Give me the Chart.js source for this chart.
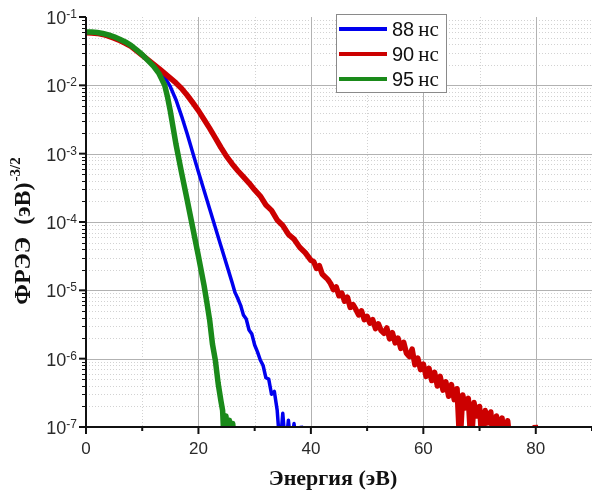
<!DOCTYPE html>
<html>
<head>
<meta charset="utf-8">
<script src="https://cdn.jsdelivr.net/npm/chart.js@4.4.1/dist/chart.umd.min.js"></script>
<style>
  html, body { margin: 0; padding: 0; background: #fff; }
  #wrap { width: 592px; height: 490px; }
</style>
</head>
<body>
<div id="wrap"><canvas id="eedf" width="592" height="490"></canvas></div>
<script>
// EEDF; values are stored as powers of ten (log axis)
const energy88 = [0, 2, 4, 6, 8, 10, 11, 12, 13, 14, 15, 16, 17, 18, 19, 20, 21, 22, 23, 24, 25, 26,
  26.5, 27, 27.5, 28, 28.5, 29, 29.5, 30, 30.5, 31, 31.5, 32, 32.5, 33, 33.5, 34, 34.5, 35, 35.5,
  36, 36.5, 37, 37.5, 37.9, 38.3, 38.5];
const exp88 = [-1.23, -1.24, -1.28, -1.345, -1.43, -1.565, -1.635, -1.70, -1.78, -1.88, -2.02, -2.21,
  -2.45, -2.71, -2.99, -3.27, -3.54, -3.81, -4.08, -4.35, -4.62, -4.89,
  -5.03, -5.12, -5.22, -5.36, -5.42, -5.58, -5.64, -5.80, -5.90, -6.02, -6.10, -6.28, -6.30, -6.52,
  -6.48, -6.75, -7.3, -6.80, -7.3, -6.90, -7.3, -6.95, -7.3, null, -6.98, -7.3];

const energy90 = [0, 1, 2, 3, 4, 5, 6, 7, 8, 9, 10, 11, 12, 13, 14, 15, 16, 17, 18, 19, 20,
  21, 22, 23, 24, 25, 26, 27, 28, 29, 30, 31, 32, 33, 34, 35, 36, 37, 38, 39,
  40, 40.5, 41, 41.5, 42, 42.5, 43, 43.5, 44, 44.5, 45, 45.5, 46, 46.5, 47, 47.5, 48, 48.5, 49, 49.5,
  50, 50.5, 51, 51.5, 52, 52.5, 53, 53.5, 54, 54.5, 55, 55.5, 56, 56.5, 57, 57.5, 58, 58.5, 59, 59.5,
  60, 60.5, 61, 61.5, 62, 62.5, 63, 63.5, 64, 64.5, 65, 65.5, 66, 66.5, 67, 67.5, 68, 68.5, 69, 69.5,
  70, 70.5, 71, 71.5, 72, 72.5, 73, 73.5, 74, 74.5, 75, 75.5, 76, 79.9, 80.1];
const exp90 = [-1.23, -1.233, -1.24, -1.255, -1.28, -1.31, -1.345, -1.385, -1.43, -1.495, -1.56,
  -1.625, -1.69, -1.755, -1.825, -1.895, -1.965, -2.045, -2.145, -2.255, -2.37,
  -2.50, -2.63, -2.77, -2.91, -3.04, -3.15, -3.25, -3.34, -3.43, -3.53, -3.62, -3.75, -3.83, -3.97,
  -4.05, -4.18, -4.25, -4.37, -4.45,
  -4.56, -4.58, -4.68, -4.64, -4.76, -4.80, -4.84, -4.90, -4.99, -4.95, -5.08, -5.04, -5.16, -5.10,
  -5.25, -5.21, -5.28, -5.36, -5.30, -5.43,
  -5.38, -5.48, -5.43, -5.56, -5.49, -5.59, -5.63, -5.55, -5.71, -5.62, -5.77, -5.70, -5.85, -5.76,
  -5.92, -5.97, -5.86, -6.09, -5.99, -6.16,
  -6.08, -6.26, -6.14, -6.32, -6.20, -6.40, -6.26, -6.46, -6.34, -6.55, -6.38, -6.60, -6.44, -7.3,
  -6.53, -6.72, -6.58, -7.3, -6.64, -6.84,
  -6.70, -7.3, -6.76, -6.94, -6.78, -7.3, -6.84, -6.99, -6.87, -7.3, -6.91, -7.3, null, -6.97, -7.3];

const energy95 = [0, 1, 2, 3, 4, 5, 6, 7, 8, 9, 10, 11, 12, 13, 14, 14.5, 15, 15.5, 16, 16.5, 17,
  18, 19, 20, 21, 21.5, 22, 22.5, 23, 23.5, 24, 24.3, 24.6, 24.9, 25.2, 25.5, 25.8, 26.1, 26.4];
const exp95 = [-1.22, -1.221, -1.228, -1.242, -1.262, -1.29, -1.325, -1.365, -1.415, -1.48, -1.55,
  -1.635, -1.72, -1.83, -2.0, -2.17, -2.38, -2.62, -2.86, -3.07, -3.28,
  -3.68, -4.09, -4.5, -4.93, -5.18, -5.44, -5.79, -6.02, -6.36, -6.62, -6.76, -7.3, -6.84, -7.3,
  -6.90, -7.3, -6.95, -7.3];

const seriesNames = ['88', '90', '95'];
const seriesUnit = 'нс';
const seriesColors = ['#0000ee', '#cc0000', '#1a8a1a'];
const xMajorTicks = [0, 20, 40, 60, 80];
const xMinorTicks = [10, 30, 50, 70, 90];
const yDecades = [-7, -6, -5, -4, -3, -2, -1];

function toPoints(xs, es) {
  return xs.map((e, i) => ({ x: e, y: es[i] === null ? null : Math.pow(10, es[i]) }));
}

function hline(ctx, x1, x2, y) { ctx.beginPath(); ctx.moveTo(x1, y); ctx.lineTo(x2, y); ctx.stroke(); }
function vline(ctx, x, y1, y2) { ctx.beginPath(); ctx.moveTo(x, y1); ctx.lineTo(x, y2); ctx.stroke(); }

const frame = {
  id: 'frame',
  beforeDatasetsDraw(chart) {
    const { ctx, chartArea: a, scales: { x, y } } = chart;
    ctx.save();
    ctx.lineWidth = 1;
    // minor grid, dotted
    ctx.strokeStyle = '#d2d2d2';
    ctx.setLineDash([1, 2]);
    yDecades.slice(0, -1).forEach(n => {
      for (let m = 2; m <= 9; m++) {
        hline(ctx, a.left, a.right, Math.round(y.getPixelForValue(m * Math.pow(10, n))) + 0.5);
      }
    });
    xMinorTicks.forEach(v => vline(ctx, Math.round(x.getPixelForValue(v)) + 0.5, a.top, a.bottom));
    // major grid
    ctx.setLineDash([]);
    ctx.strokeStyle = '#b2b2b2';
    yDecades.slice(1, -1).forEach(n => hline(ctx, a.left, a.right, Math.round(y.getPixelForValue(Math.pow(10, n))) + 0.5));
    xMajorTicks.slice(1).forEach(v => vline(ctx, Math.round(x.getPixelForValue(v)) + 0.5, a.top, a.bottom));
    ctx.restore();
  },
  afterDatasetsDraw(chart) {
    const { ctx, chartArea: a, scales: { x, y } } = chart;
    ctx.save();
    ctx.strokeStyle = '#111';
    // y ticks
    yDecades.forEach(n => {
      const py = y.getPixelForValue(Math.pow(10, n));
      ctx.lineWidth = 2;
      hline(ctx, a.left - 7, a.left, py);
      if (n < -1) {
        ctx.lineWidth = 1;
        for (let m = 2; m <= 9; m++) {
          const pm = Math.round(y.getPixelForValue(m * Math.pow(10, n))) + 0.5;
          hline(ctx, a.left - 4, a.left, pm);
        }
      }
    });
    // x ticks
    ctx.lineWidth = 2;
    xMajorTicks.forEach(v => vline(ctx, x.getPixelForValue(v), a.bottom, a.bottom + 7));
    xMinorTicks.forEach(v => vline(ctx, x.getPixelForValue(v), a.bottom, a.bottom + 4));
    // axis lines
    vline(ctx, a.left, a.top, a.bottom + 1);
    hline(ctx, a.left - 1, a.right, a.bottom);

    // tick labels
    ctx.fillStyle = '#2a2a2a';
    ctx.font = '17px "Liberation Sans", Arial, sans-serif';
    ctx.textAlign = 'center';
    ctx.textBaseline = 'alphabetic';
    xMajorTicks.forEach(v => ctx.fillText(String(v), x.getPixelForValue(v), a.bottom + 27));
    yDecades.forEach(n => {
      const py = y.getPixelForValue(Math.pow(10, n));
      const sup = '-' + Math.abs(n);
      ctx.font = '12px "Liberation Sans", Arial, sans-serif';
      const sw = ctx.measureText(sup).width;
      ctx.textAlign = 'left';
      ctx.fillText(sup, 77 - sw, py + 1);
      ctx.font = '18px "Liberation Sans", Arial, sans-serif';
      ctx.textAlign = 'right';
      ctx.fillText('10', 77 - sw, py + 7);
    });

    // axis titles
    ctx.fillStyle = '#111';
    ctx.textAlign = 'center';
    ctx.font = 'bold 22px "Liberation Serif", "Times New Roman", serif';
    ctx.fillText('Энергия (эВ)', 333, 485);

    ctx.save();
    ctx.translate(30, 231);
    ctx.rotate(-Math.PI / 2);
    ctx.textAlign = 'left';
    const main = 'ФРЭЭ  (эВ)';
    const supT = '-3/2';
    ctx.font = 'bold 24px "Liberation Serif", "Times New Roman", serif';
    const mw = ctx.measureText(main).width;
    ctx.font = 'bold 15px "Liberation Serif", "Times New Roman", serif';
    const tw = mw + 1 + ctx.measureText(supT).width;
    ctx.font = 'bold 24px "Liberation Serif", "Times New Roman", serif';
    ctx.fillText(main, -tw / 2, 0);
    ctx.font = 'bold 15px "Liberation Serif", "Times New Roman", serif';
    ctx.fillText(supT, -tw / 2 + mw + 1, -10);
    ctx.restore();

    // legend
    ctx.fillStyle = '#fff';
    ctx.fillRect(336, 14, 111, 78);
    ctx.strokeStyle = '#8a8a8a';
    ctx.lineWidth = 1;
    ctx.strokeRect(336.5, 14.5, 110, 78);
    seriesNames.forEach((name, i) => {
      const ry = 29 + i * 25;
      ctx.strokeStyle = seriesColors[i];
      ctx.lineWidth = 4;
      hline(ctx, 339, 387, ry);
      ctx.fillStyle = '#111';
      ctx.textAlign = 'left';
      ctx.font = '20px "Liberation Sans", Arial, sans-serif';
      ctx.fillText(name, 392, ry + 7);
      const nw = ctx.measureText(name).width;
      ctx.font = '21px "Liberation Serif", "Times New Roman", serif';
      ctx.fillText(seriesUnit, 392 + nw + 4, ry + 7);
    });
    ctx.restore();
  }
};

new Chart(document.getElementById('eedf'), {
  type: 'line',
  data: {
    datasets: [
      { label: seriesNames[0], data: toPoints(energy88, exp88), borderColor: seriesColors[0], borderWidth: 3.5, order: 3 },
      { label: seriesNames[1], data: toPoints(energy90, exp90), borderColor: seriesColors[1], borderWidth: 5.5, order: 2 },
      { label: seriesNames[2], data: toPoints(energy95, exp95), borderColor: seriesColors[2], borderWidth: 5.5, order: 1 }
    ]
  },
  options: {
    responsive: false,
    animation: false,
    layout: { padding: { left: 86, right: 0, top: 17, bottom: 63 } },
    elements: { point: { radius: 0 }, line: { tension: 0, borderJoinStyle: 'round' } },
    datasets: { line: { clip: 0, spanGaps: false, fill: false } },
    scales: {
      x: { type: 'linear', min: 0, max: 90, display: false },
      y: { type: 'logarithmic', min: 1e-7, max: 1e-1, display: false }
    },
    plugins: { legend: { display: false }, tooltip: { enabled: false } }
  },
  plugins: [frame]
});
</script>
</body>
</html>
